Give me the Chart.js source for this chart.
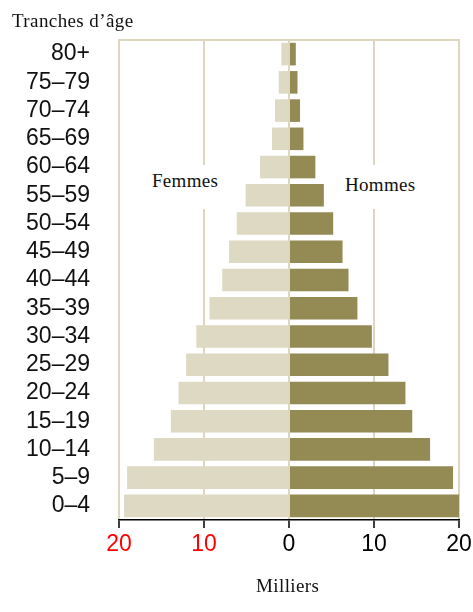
<!DOCTYPE html>
<html>
<head>
<meta charset="utf-8">
<script src="https://cdn.jsdelivr.net/npm/chart.js@4"></script>
<style>
  body { margin: 0; background: #fff; }
  #wrap { position: relative; width: 473px; height: 612px; }
  .lbl { position: absolute; font-family: "Liberation Serif", serif; font-size: 19px; line-height: 19px; color: #111; white-space: nowrap; }
  .side { background: #fff; letter-spacing: 0.3px; }
</style>
</head>
<body>
<div id="wrap">
  <canvas id="pyramide"></canvas>
  <div class="lbl" style="left:12px; top:11px; letter-spacing:0.4px;">Tranches d’âge</div>
  <div class="lbl side" style="left:148px; top:165px; padding:6px 4px 19px 4px;">Femmes</div>
  <div class="lbl side" style="left:341px; top:165px; padding:10px 4px 15px 4px;">Hommes</div>
  <div class="lbl" style="left:256px; top:576px; letter-spacing:0.4px;">Milliers</div>
</div>
<script>
// tranches d'âge, du haut vers le bas
const ageGroups = ['80+', '75–79', '70–74', '65–69', '60–64', '55–59', '50–54', '45–49', '40–44',
    '35–39', '30–34', '25–29', '20–24', '15–19', '10–14', '5–9', '0–4'];
// milliers
const femmes = [0.9, 1.2, 1.65, 2.0, 3.4, 5.1, 6.15, 7.05, 7.85, 9.35, 10.9, 12.1, 13.0, 13.9, 15.9, 19.05, 19.4];
const hommes = [0.8, 1.0, 1.3, 1.7, 3.1, 4.1, 5.2, 6.3, 7.0, 8.05, 9.75, 11.7, 13.7, 14.5, 16.6, 19.3, 20.2];
const xTicks = [-20, -10, 0, 10, 20];

const tan = '#ddd7c0';

// top border of the plot box
const topLine = {
    id: 'topLine',
    beforeDatasetsDraw(chart) {
        const { ctx, chartArea } = chart;
        ctx.save();
        ctx.strokeStyle = tan;
        ctx.lineWidth = 2;
        ctx.beginPath();
        ctx.moveTo(chartArea.left - 1, chartArea.top);
        ctx.lineTo(chartArea.right + 1, chartArea.top);
        ctx.stroke();
        ctx.restore();
    }
};

const ctx = document.getElementById('pyramide').getContext('2d');
new Chart(ctx, {
    type: 'bar',
    data: {
        labels: ageGroups,
        datasets: [{
            label: 'Femmes',
            data: femmes.map(v => -v),
            backgroundColor: '#ddd9c3',
            barPercentage: 0.8,
            categoryPercentage: 1
        }, {
            label: 'Hommes',
            data: hommes,
            backgroundColor: '#948a54',
            barPercentage: 0.8,
            categoryPercentage: 1
        }]
    },
    options: {
        indexAxis: 'y',
        responsive: true,
        maintainAspectRatio: false,
        animation: false,
        layout: { padding: { top: 40, right: 14, left: 0, bottom: 0 } },
        plugins: {
            legend: { display: false },
            tooltip: { enabled: false }
        },
        scales: {
            x: {
                stacked: true,
                min: -20,
                max: 20,
                afterBuildTicks: s => { s.ticks = xTicks.map(v => ({ value: v })); },
                afterFit: s => { s.height = 92; s.paddingLeft = 0; s.paddingRight = 0; },
                grid: {
                    color: tan,
                    lineWidth: 2,
                    tickColor: '#000',
                    tickLength: 8,
                    tickWidth: 1.5
                },
                border: { color: '#000', width: 1.5 },
                ticks: {
                    padding: 3,
                    font: { family: 'Liberation Sans', size: 23 },
                    color: c => (c.tick && c.tick.value < 0) ? '#ff0000' : '#000',
                    callback: v => Math.abs(v)
                }
            },
            y: {
                stacked: true,
                afterFit: s => { s.width = 119; },
                grid: { display: false },
                border: { display: false },
                ticks: {
                    autoSkip: false,
                    padding: 21,
                    font: { family: 'Liberation Sans', size: 23 },
                    color: '#111'
                }
            }
        }
    },
    plugins: [topLine]
});
</script>
</body>
</html>
